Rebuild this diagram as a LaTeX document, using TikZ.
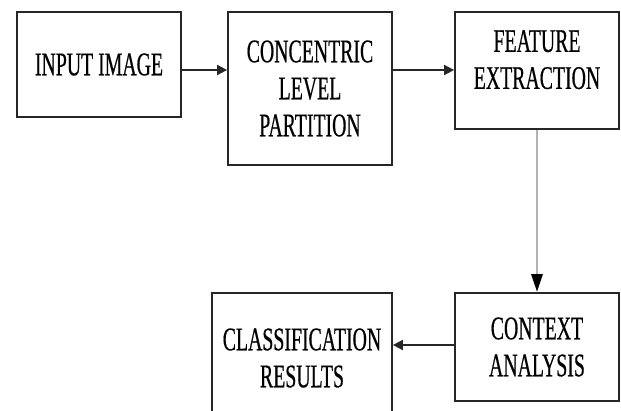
\documentclass[tikz,border=0pt]{standalone}
\usepackage{fontspec}
\newfontfamily\narrowserif[FakeStretch=0.6, FakeBold=0.5]{Liberation Serif}
\usetikzlibrary{arrows.meta}

\begin{document}
\begin{tikzpicture}[x=1pt, y=-1pt, >={Triangle[length=10pt, width=10pt]}, line width=1.8pt,
  font=\narrowserif\fontsize{33}{37}\selectfont]
\tikzset{
  stagebox/.style={draw=black!85, align=center, inner sep=0pt},
  flowline/.style={->, draw=black!85, line width=1.8pt},
  grayline/.style={draw=black!30, line width=2.8pt}
}
\clip (0,0) rectangle (621,411);

\node[stagebox, minimum width=164pt, minimum height=105pt] (inp) at (99,64.5) {INPUT IMAGE};
\node[stagebox, minimum width=164pt, minimum height=153pt] (conc) at (310,88.5) {CONCENTRIC\\LEVEL\\PARTITION};
\node[stagebox, minimum width=164pt, minimum height=117pt, text depth=22pt] (feat) at (537,70.5) {FEATURE\\EXTRACTION};
\node[stagebox, minimum width=164pt, minimum height=108pt] (ctx) at (537,347) {CONTEXT\\ANALYSIS};
\node[stagebox, minimum width=180pt, minimum height=130pt] (cls) at (302,358) {CLASSIFICATION\\RESULTS};

\draw[flowline] (inp.east |- 0,70) -- (conc.west |- 0,70);
\draw[flowline] (conc.east |- 0,70) -- (feat.west |- 0,70);
\draw[grayline, -{Triangle[length=18pt, width=11pt, black]}] (feat) -- (ctx);
\draw[flowline] (ctx.west |- 0,345) -- (cls.east |- 0,345);
\end{tikzpicture}
\end{document}
